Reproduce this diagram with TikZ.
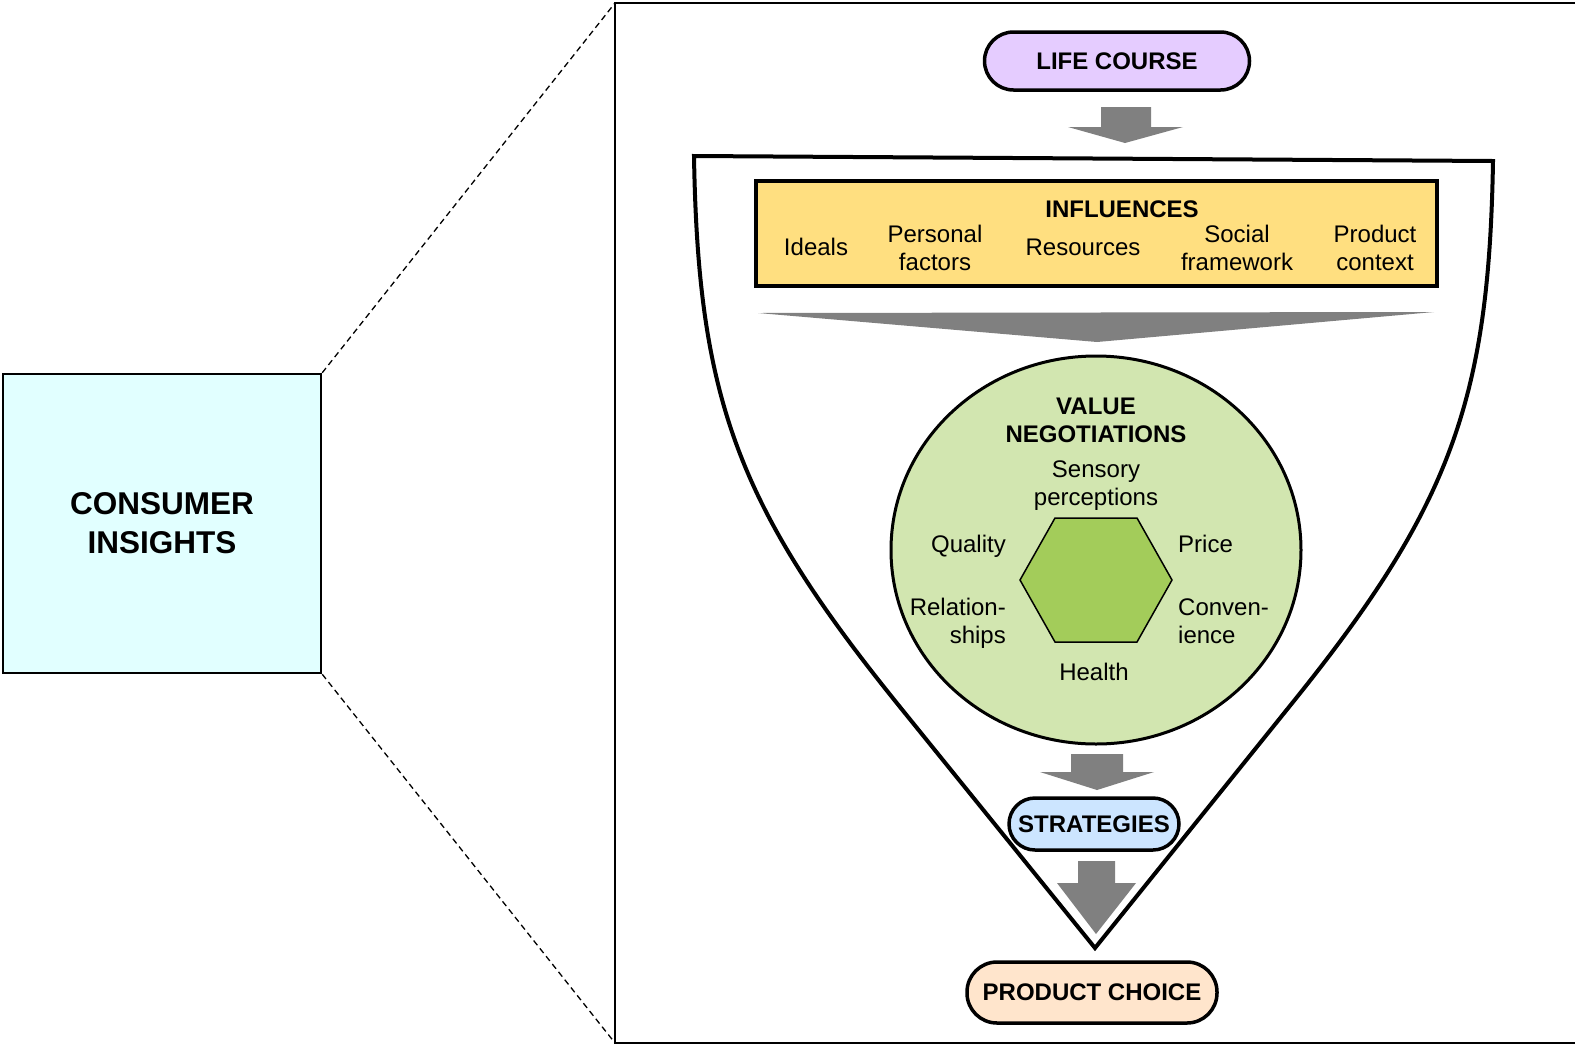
\documentclass[tikz,border=0pt]{standalone}
\usepackage{fontspec}
\setmainfont{Liberation Sans}
\usetikzlibrary{shapes.geometric}

\definecolor{cyanbox}{HTML}{E1FFFF}
\definecolor{lilac}{HTML}{E5CCFF}
\definecolor{sand}{HTML}{FFDF80}
\definecolor{sage}{HTML}{D2E6B0}
\definecolor{leaf}{HTML}{A3CC5A}
\definecolor{sky}{HTML}{CCE5FF}
\definecolor{peach}{HTML}{FFE5CC}
\definecolor{arrowgray}{HTML}{808080}

\tikzset{
  pill/.style={draw=black, line width=3.5pt, rectangle, inner sep=0pt,
    font=\fontsize{24}{28.5}\selectfont\bfseries},
  label/.style={inner sep=0pt, font=\fontsize{24}{28.5}\selectfont},
  boldlabel/.style={inner sep=0pt, font=\fontsize{24}{28.5}\selectfont\bfseries},
  blockarrow/.style={fill=arrowgray, draw=none},
}

\begin{document}
\begin{tikzpicture}[x=1pt, y=-1pt]
\useasboundingbox (0,0) rectangle (1575,1045);

% zoomed frame on the right
\coordinate (zt) at (615,3);
\coordinate (zb) at (615,1043);
\coordinate (zrt) at (1585,3);
\coordinate (zrb) at (1585,1043);
\draw[line width=2.5pt] (zrt) -- (zt) -- (zb) -- (zrb);

% summary box on the left
\node[draw=black, line width=2.5pt, fill=cyanbox, rectangle,
      minimum width=318pt, minimum height=299pt, inner sep=0pt,
      align=center, font=\fontsize{31.5}{39}\selectfont\bfseries]
  (ci) at (162,523.5) {CONSUMER\\INSIGHTS};

% dashed zoom lines
\draw[line width=1.3pt, dash pattern=on 6pt off 4pt] (ci.north east) -- (zt);
\draw[line width=1.3pt, dash pattern=on 6pt off 4pt] (ci.south east) -- (zb);

% funnel outline: curved upper flanks running into straight lower flanks
\coordinate (ftl) at (694,156);
\coordinate (ftr) at (1493,161);
\coordinate (frm) at (1289,707);
\coordinate (ftip) at (1095,948);
\coordinate (flm) at (900,707);
\draw[line width=4pt, line join=miter, fill=white]
  (ftl) -- (ftr) .. controls (1489,400) and (1451,507) .. (frm)
  -- (ftip) -- (flm) .. controls (738,507) and (698,400) .. (ftl) -- cycle;

% life course
\node[pill, fill=lilac, rounded corners=29pt, minimum width=265pt, minimum height=58pt]
  (life) at (1117,61) {LIFE COURSE};

% arrow life course -> influences
\fill[blockarrow] (1101,107) -- (1151,107) -- (1151,127) -- (1183,127)
  -- (1125,143) -- (1068,127) -- (1101,127) -- cycle;

% influences panel
\node[draw=black, line width=4pt, fill=sand, rectangle, inner sep=0pt,
      minimum width=681pt, minimum height=105pt] (infl) at (1096.5,233.5) {};
\node[boldlabel, anchor=base] (inflt) at (1122,217) {INFLUENCES};
\node[label, anchor=base] (ideals) at (816,255) {Ideals};
\node[label, anchor=base] (pers1) at (935,242) {Personal};
\node[label, anchor=base] (pers2) at (935,270) {factors};
\node[label, anchor=base] (res) at (1083,255) {Resources};
\node[label, anchor=base] (soc1) at (1237,242) {Social};
\node[label, anchor=base] (soc2) at (1237,270) {framework};
\node[label, anchor=base] (prod1) at (1375,242) {Product};
\node[label, anchor=base] (prod2) at (1375,270) {context};

% wide wedge arrow
\fill[blockarrow] (758,313) -- (1434,312) -- (1097,342) -- cycle;

% value negotiations
\node[draw=black, line width=3pt, fill=sage, ellipse, inner sep=0pt,
      minimum width=410pt, minimum height=388pt] (vn) at (1096,550) {};
\draw[line width=1.5pt, fill=leaf, line join=miter]
  (1055,518) -- (1137,518) -- (1172,580) -- (1137,642) -- (1055,642) -- (1020,580) -- cycle;
\node[boldlabel, anchor=base] (vn1) at (1096,414) {VALUE};
\node[boldlabel, anchor=base] (vn2) at (1096,442) {NEGOTIATIONS};
\node[label, anchor=base] (sens1) at (1096,477) {Sensory};
\node[label, anchor=base] (sens2) at (1096,505) {perceptions};
\node[label, anchor=base east] (qual) at (1006,552) {Quality};
\node[label, anchor=base west] (price) at (1178,552) {Price};
\node[label, anchor=base east] (rel1) at (1006,615) {Relation-};
\node[label, anchor=base east] (rel2) at (1006,643) {ships};
\node[label, anchor=base west] (conv1) at (1178,615) {Conven-};
\node[label, anchor=base west] (conv2) at (1178,643) {ience};
\node[label, anchor=base] (health) at (1094,680) {Health};

% arrow value negotiations -> strategies
\fill[blockarrow] (1071,754) -- (1123,754) -- (1123,772) -- (1154,772)
  -- (1097,790) -- (1040,772) -- (1071,772) -- cycle;

% strategies
\node[pill, fill=sky, rounded corners=26pt, minimum width=170pt, minimum height=52pt]
  (strat) at (1094,824) {STRATEGIES};

% arrow strategies -> product choice
\fill[blockarrow] (1078,861) -- (1115,861) -- (1115,883) -- (1136,883)
  -- (1096,934) -- (1057,883) -- (1078,883) -- cycle;

% product choice
\node[pill, fill=peach, rounded corners=30pt, minimum width=250pt, minimum height=61pt]
  (choice) at (1092,992.5) {PRODUCT CHOICE};
\end{tikzpicture}
\end{document}
